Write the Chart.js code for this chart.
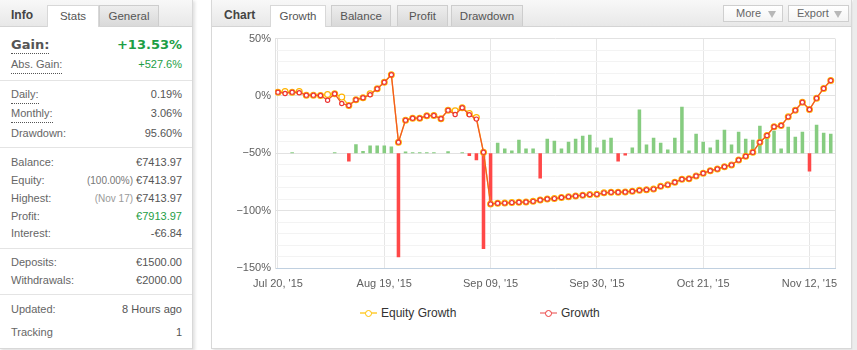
<!DOCTYPE html>
<html>
<head>
<meta charset="utf-8">
<script src="https://cdn.jsdelivr.net/npm/chart.js"></script>
<style>
  body { margin:0; width:857px; height:350px; overflow:hidden; background:#fff; position:relative;
         font-family:"Liberation Sans", Arial, sans-serif; font-size:11px; color:#555; }
  .panel { position:absolute; top:-1px; background:#fff; border:1px solid #d8d8d8; box-shadow:2px 2px 3px rgba(0,0,0,0.12); }
  .head { position:absolute; left:0; top:0; right:0; height:26px; border-bottom:1px solid #d4d4d4;
          background:linear-gradient(#f8f8f8,#e8e8e8); }
  .title { position:absolute; top:0; line-height:31px; font-weight:bold; font-size:12px; color:#444; }
  .tab { position:absolute; top:5px; height:21px; box-sizing:border-box; border:1px solid #cdcdcd; border-bottom:none;
         background:linear-gradient(#ededed,#d9d9d9); text-align:center; line-height:21px; font-size:11.5px; color:#555; }
  .tab.on { height:22px; background:#fff; border-color:#d8d8d8; }
  .btn { position:absolute; top:5px; height:17px; box-sizing:border-box; border:1px solid #cfcfcf; background:linear-gradient(#fff,#f4f4f4);
         line-height:15px; font-size:11px; color:#666; }
  .btn b { position:absolute; right:6px; top:5px; width:0; height:0; border-left:4px solid transparent; border-right:4px solid transparent;
           border-top:7px solid #b8b8b8; }
  .row { position:absolute; left:11px; right:10px; height:18px; line-height:18px; }
  .row .k { color:#666; }
  .row .v { position:absolute; right:0; top:0; color:#555; }
  .dot { display:inline-block; border-bottom:1px dotted #555; line-height:17px; }
  .g { color:#1d9e45 !important; }
  .sm { font-size:10px; color:#888; }
  .sep { position:absolute; left:0; right:0; height:1px; background:#e4e4e4; }
  .big { font-family:"DejaVu Sans", sans-serif; font-weight:bold; font-size:13px; }
  .lgl { position:absolute; top:312px; width:17px; height:2px; }
  .lgm { position:absolute; top:309.5px; width:7px; height:7px; box-sizing:border-box; border-radius:50%; border:1.5px solid; background:#fff; }
  .lgt { position:absolute; top:306px; line-height:14px; font-size:12px; color:#333; }
</style>
</head>
<body>
<div class="panel" style="left:-1px; width:192px; height:348px;">
  <div class="head"></div>
  <div class="title" style="left:11px;">Info</div>
  <div class="tab on" style="left:47px; width:52px;">Stats</div>
  <div class="tab" style="left:99px; width:60px;">General</div>

  <div class="row big" style="top:36px;"><span class="k dot" style="color:#555">Gain:</span><span class="v g">+13.53%</span></div>
  <div class="row" style="top:55px;"><span class="k dot">Abs. Gain:</span><span class="v g">+527.6%</span></div>
  <div class="sep" style="top:80px;"></div>
  <div class="row" style="top:85px;"><span class="k dot">Daily:</span><span class="v">0.19%</span></div>
  <div class="row" style="top:104px;"><span class="k dot">Monthly:</span><span class="v">3.06%</span></div>
  <div class="row" style="top:124px;"><span class="k">Drawdown:</span><span class="v">95.60%</span></div>
  <div class="sep" style="top:147px;"></div>
  <div class="row" style="top:153px;"><span class="k">Balance:</span><span class="v">€7413.97</span></div>
  <div class="row" style="top:171px;"><span class="k">Equity:</span><span class="v"><span class="sm" style="color:#777">(100.00%)</span> €7413.97</span></div>
  <div class="row" style="top:189px;"><span class="k">Highest:</span><span class="v"><span class="sm" style="color:#9a9a9a">(Nov 17)</span> €7413.97</span></div>
  <div class="row" style="top:207px;"><span class="k">Profit:</span><span class="v g">€7913.97</span></div>
  <div class="row" style="top:224px;"><span class="k">Interest:</span><span class="v">-€6.84</span></div>
  <div class="sep" style="top:248px;"></div>
  <div class="row" style="top:253px;"><span class="k">Deposits:</span><span class="v">€1500.00</span></div>
  <div class="row" style="top:271px;"><span class="k">Withdrawals:</span><span class="v">€2000.00</span></div>
  <div class="sep" style="top:294px;"></div>
  <div class="row" style="top:300px;"><span class="k">Updated:</span><span class="v">8 Hours ago</span></div>
  <div class="row" style="top:323px;"><span class="k">Tracking</span><span class="v">1</span></div>
</div>

<div class="panel" style="left:211px; width:639px; height:348px;">
  <div class="head"></div>
  <div class="title" style="left:12px;">Chart</div>
  <div class="tab on" style="left:58px; width:56px;">Growth</div>
  <div class="tab" style="left:119px; width:60px;">Balance</div>
  <div class="tab" style="left:185px; width:51px;">Profit</div>
  <div class="tab" style="left:239px; width:72px;">Drawdown</div>
  <div class="btn" style="left:511px; width:60px; padding-left:12px;">More<b></b></div>
  <div class="btn" style="left:576px; width:61px; padding-left:8px;">Export<b></b></div>
</div>
<div style="position:absolute; left:853px; top:0; width:4px; height:350px; background:#ececec;"></div>

<div style="position:absolute; left:212px; top:28px; width:636px; height:270px;">
  <canvas id="growthChart" width="636" height="270"></canvas>
</div>

<div class="lgl" style="left:360px; background:#ffd966;"></div>
<div class="lgm" style="left:364.5px; border-color:#ffc000;"></div>
<div class="lgt" style="left:381px;">Equity Growth</div>
<div class="lgl" style="left:540px; background:#f4a3a3;"></div>
<div class="lgm" style="left:544.5px; border-color:#ec3b3b;"></div>
<div class="lgt" style="left:561px;">Growth</div>

<script>
// x positions are trading-day indexes, labelled every 15 days
const tickIdx = [0, 15, 30, 45, 60, 75];
const tickLabels = ["Jul 20, '15", "Aug 19, '15", "Sep 09, '15", "Sep 30, '15", "Oct 21, '15", "Nov 12, '15"];

// growth in %
const growth = [
  3.3, 2.2, 3.3, 2.8, 0.7, 0.7, 0.4, -3.7, 1.9, -6.6,
  -8.3, -3.3, -1.6, 1.0, 6.3, 12.0, 18.5, -40.3, -21.1, -19.4,
  -19.4, -17.3, -17.0, -19.9, -12.4, -16.2, -10.3, -16.4, -20.2, -49.0,
  -94.1, -93.6, -93.4, -93.0, -92.7, -92.4, -91.9, -90.7, -89.8, -89.5,
  -88.6, -87.8, -87.2, -86.6, -86.0, -85.8, -84.5, -84.0, -84.0, -83.7,
  -83.1, -82.3, -81.7, -81.2, -78.8, -77.5, -75.3, -72.6, -72.2, -69.7,
  -67.4, -65.2, -63.7, -61.7, -60.1, -55.9, -52.6, -49.1, -40.3, -34.5,
  -26.9, -25.8, -18.2, -12.4, -5.4, -11.8, -1.9, 6.6, 13.5
];

// equity growth in %
const equityGrowth = [
  3.3, 3.9, 3.3, 3.9, 0.7, 0.7, 0.4, 1.3, 1.9, -1.0,
  -8.3, -3.3, -1.6, 1.9, 6.3, 12.0, 18.5, -40.3, -21.1, -19.4,
  -19.4, -17.3, -17.0, -19.9, -12.4, -12.9, -10.3, -15.3, -18.8, -49.0,
  -94.1, -93.6, -93.4, -93.0, -92.7, -92.4, -91.9, -90.7, -89.8, -89.5,
  -88.6, -87.8, -87.2, -86.6, -86.0, -85.8, -84.5, -84.0, -84.0, -83.7,
  -83.1, -82.3, -81.7, -81.2, -78.8, -77.5, -75.3, -72.6, -72.2, -69.7,
  -67.4, -65.2, -63.7, -61.7, -60.1, -55.9, -52.6, -49.1, -40.3, -34.5,
  -26.9, -25.8, -18.2, -12.4, -5.4, -11.8, -1.9, 6.6, 13.5
];

// daily result bars (own hidden axis, zero sits on the -50% line)
const dailyBars = [
  0, 0, 0.1, 0, 0, 0, 0, 0, 0.1, 0,
  -0.83, 0.9, 0.23, 0.77, 0.77, 0.77, 0.67, -10.43, 0.17, 0.1,
  0.1, 0.1, 0.1, 0, 0.2, 0, 0.1, -0.27, -0.7, -9.6,
  -5.1, 1.07, 0.47, 0.27, 1.37, 0.47, 0.47, -2.53, 1.47, 1.27,
  0.47, 1.17, 1.47, 1.77, 1.87, 0.57, 1.37, 1.57, -0.83, -0.23,
  0.57, 4.4, 0.87, 1.57, 1.07, 0.37, 1.57, 4.67, 0.27, 1.97,
  1.17, 0.57, 1.37, 2.37, 0.87, 2.17, 1.47, 1.37, 2.77, 1.67,
  2.27, 0.47, 2.67, 1.67, 2.17, -1.83, 2.87, 2.07, 1.97
];

const toXY = arr => arr.map((v, i) => ({ x: i, y: v }));
const font = { family: '"Liberation Sans", Arial, sans-serif', size: 11 };

// thin line on the right side of the plot
const frame = {
  id: 'frame',
  beforeDatasetsDraw(chart) {
    const { ctx, chartArea } = chart;
    const x = Math.round(chartArea.right) + 0.5;
    ctx.save();
    ctx.strokeStyle = '#e2e2e2';
    ctx.lineWidth = 1;
    ctx.beginPath();
    ctx.moveTo(x, chartArea.top);
    ctx.lineTo(x, chartArea.bottom);
    ctx.stroke();
    ctx.restore();
  }
};

new Chart(document.getElementById('growthChart'), {
  type: 'line',
  data: {
    datasets: [
      {
        type: 'line',
        label: 'Growth',
        data: toXY(growth),
        order: 1,
        borderColor: '#f25a26',
        borderWidth: 1.3,
        pointRadius: 2.1,
        pointBorderWidth: 1.2,
        pointBorderColor: '#ec3434',
        pointBackgroundColor: '#fff',
        tension: 0
      },
      {
        type: 'line',
        label: 'Equity Growth',
        data: toXY(equityGrowth),
        order: 2,
        borderColor: '#ffbe1a',
        borderWidth: 1.3,
        pointRadius: 2.9,
        pointBorderWidth: 1.2,
        pointBorderColor: '#ffb400',
        pointBackgroundColor: '#fff',
        tension: 0
      },
      {
        type: 'bar',
        label: 'Daily',
        data: toXY(dailyBars),
        yAxisID: 'y2',
        order: 3,
        backgroundColor: dailyBars.map(v => v < 0 ? '#ff4848' : '#86cc80'),
        barPercentage: 0.5,
        categoryPercentage: 1
      }
    ]
  },
  options: {
    responsive: false,
    animation: false,
    devicePixelRatio: 1,
    layout: { padding: { top: 10, right: 13, left: 0, bottom: 0 } },
    plugins: { legend: { display: false }, tooltip: { enabled: false } },
    scales: {
      x: {
        type: 'linear',
        offset: false,
        min: -0.42,
        max: 78.6,
        afterBuildTicks: s => { s.ticks = tickIdx.map(v => ({ value: v })); },
        afterFit: s => { s.height = 30; },
        grid: { color: '#e6e6e6', drawTicks: false, offset: false },
        border: { color: '#c0d0e0' },
        ticks: {
          padding: 9,
          color: '#606060',
          font: font,
          maxRotation: 0,
          autoSkip: false,
          callback: v => tickLabels[tickIdx.indexOf(v)]
        }
      },
      y: {
        min: -150,
        max: 50,
        afterFit: s => { s.width = 63; },
        grid: {
          color: c => (c.tick && c.tick.value % 50 === 0) ? '#e2e2e2' : '#f3f3f3',
          drawTicks: false
        },
        border: { color: '#e2e2e2' },
        ticks: {
          stepSize: 10,
          padding: 4,
          autoSkip: false,
          color: '#606060',
          font: font,
          callback: v => v % 50 === 0 ? (v < 0 ? '\u2212' + (-v) : v) + '%' : ''
        }
      },
      y2: { display: false, min: -11.5, max: 11.5 }
    }
  },
  plugins: [frame]
});
</script>
</body>
</html>
